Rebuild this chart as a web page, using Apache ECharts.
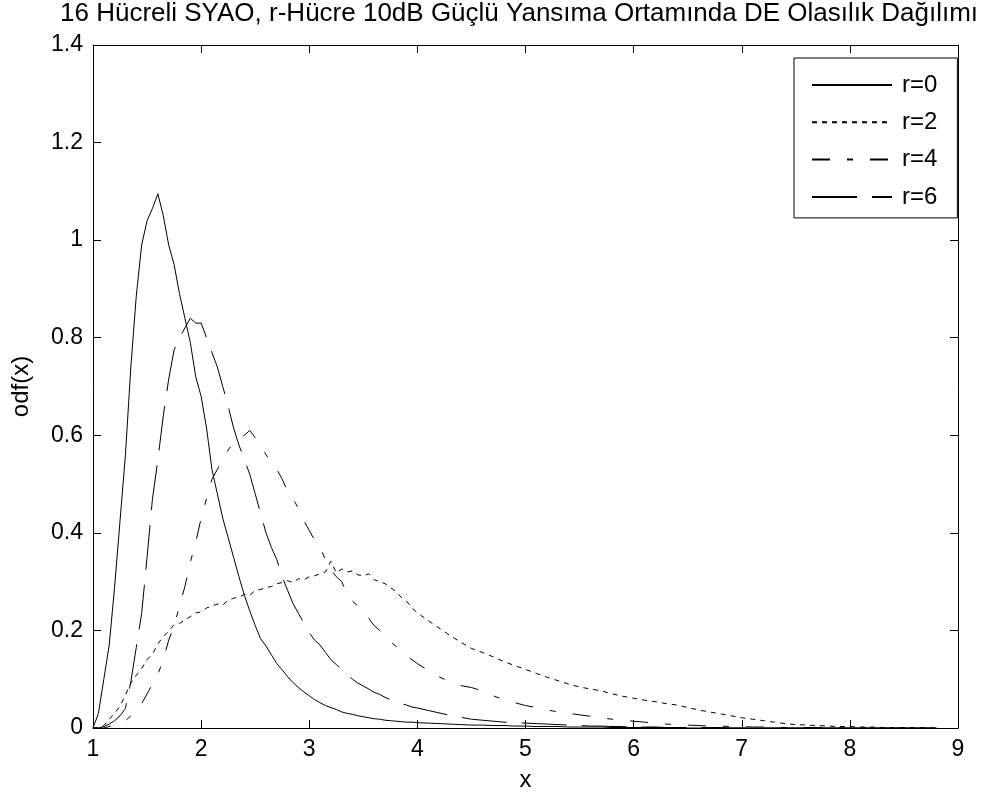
<!DOCTYPE html>
<html>
<head>
<meta charset="utf-8">
<script src="https://cdn.jsdelivr.net/npm/echarts@6/dist/echarts.min.js"></script>
<style>
  html, body { margin: 0; padding: 0; background: #fff; }
  #chart { width: 989px; height: 803px; }
</style>
</head>
<body>
<div id="chart"></div>
<script>
// Sample positions: 0.05 steps up to 4, then 0.1 steps in the tails
const xs = [
  1.00,1.05,1.10,1.15,1.20,1.25,1.30,1.35,1.40,1.45,
  1.50,1.55,1.60,1.65,1.70,1.75,1.80,1.85,1.90,1.95,
  2.00,2.05,2.10,2.15,2.20,2.25,2.30,2.35,2.40,2.45,
  2.50,2.55,2.60,2.65,2.70,2.75,2.80,2.85,2.90,2.95,
  3.00,3.05,3.10,3.15,3.20,3.25,3.30,3.35,3.40,3.45,
  3.50,3.55,3.60,3.65,3.70,3.75,3.80,3.85,3.90,3.95,
  4.00,
  4.1,4.2,4.3,4.4,4.5,4.6,4.7,4.8,4.9,5.0,
  5.1,5.2,5.3,5.4,5.5,5.6,5.7,5.8,5.9,6.0,
  6.1,6.2,6.3,6.4,6.5,6.6,6.7,6.8,6.9,7.0,
  7.1,7.2,7.3,7.4,7.5,7.6,7.7,7.8,7.9,8.0,
  8.1,8.2,8.3,8.4,8.5,8.6,8.7,8.8
];

// r=0
const pdfR0 = [
  0.000,0.030,0.100,0.170,0.290,0.425,0.560,0.740,0.885,0.990,
  1.040,1.065,1.095,1.050,0.990,0.950,0.890,0.840,0.790,0.720,
  0.680,0.615,0.530,0.480,0.430,0.390,0.350,0.310,0.272,0.240,
  0.210,0.183,0.168,0.150,0.132,0.119,0.105,0.093,0.083,0.074,
  0.066,0.058,0.052,0.046,0.042,0.038,0.033,0.030,0.028,0.025,
  0.023,0.021,0.019,0.018,0.016,0.015,0.014,0.013,0.012,0.012,
  0.011,
  0.010,0.009,0.008,0.007,0.006,0.006,0.005,0.005,0.004,0.004,
  0.003,0.003,0.003,0.002,0.002,0.002,0.002,0.001,0.001,0.001,
  0.001,0.001,0.001,0.001,0,0,0,0,0,0,
  0,0,0,0,0,0,0,0,0,0,
  0,0,0,0,0,0,0,0
];

// r=2
const pdfR2 = [
  0.000,0.000,0.005,0.018,0.030,0.045,0.068,0.092,0.108,0.122,
  0.140,0.152,0.172,0.188,0.198,0.212,0.214,0.222,0.228,0.236,
  0.238,0.246,0.250,0.254,0.252,0.262,0.266,0.268,0.274,0.272,
  0.282,0.284,0.288,0.290,0.296,0.298,0.302,0.298,0.306,0.304,
  0.310,0.312,0.316,0.320,0.342,0.318,0.326,0.320,0.322,0.314,
  0.312,0.316,0.304,0.300,0.296,0.288,0.280,0.268,0.260,0.246,
  0.236,
  0.220,0.205,0.190,0.176,0.163,0.155,0.146,0.136,0.128,0.120,
  0.112,0.104,0.097,0.090,0.084,0.080,0.076,0.070,0.065,0.061,
  0.057,0.054,0.050,0.047,0.042,0.037,0.033,0.029,0.025,0.021,
  0.018,0.015,0.012,0.009,0.007,0.006,0.005,0.004,0.003,0.003,
  0.002,0.002,0.001,0.001,0.001,0.001,0,0
];

// r=4
const pdfR4 = [
  0.000,0.000,0.000,0.003,0.006,0.010,0.015,0.025,0.035,0.050,
  0.070,0.090,0.110,0.140,0.180,0.210,0.250,0.290,0.340,0.380,
  0.430,0.470,0.510,0.530,0.550,0.570,0.585,0.595,0.600,0.610,
  0.595,0.580,0.560,0.545,0.530,0.510,0.485,0.470,0.450,0.425,
  0.405,0.385,0.370,0.345,0.325,0.310,0.300,0.275,0.260,0.250,
  0.235,0.225,0.210,0.200,0.190,0.177,0.168,0.157,0.148,0.140,
  0.132,
  0.118,0.105,0.095,0.087,0.083,0.076,0.066,0.058,0.052,0.046,
  0.042,0.037,0.033,0.030,0.027,0.024,0.021,0.018,0.016,0.014,
  0.012,0.010,0.008,0.007,0.006,0.005,0.004,0.004,0.003,0.003,
  0.002,0.002,0.002,0.001,0.001,0.001,0.001,0.001,0,0,
  0,0,0,0,0,0,0,0
];

// r=6
const pdfR6 = [
  0.000,0.000,0.003,0.008,0.015,0.025,0.040,0.095,0.165,0.235,
  0.350,0.470,0.550,0.640,0.715,0.775,0.800,0.820,0.840,0.830,
  0.830,0.800,0.770,0.740,0.700,0.660,0.615,0.580,0.550,0.520,
  0.480,0.440,0.400,0.370,0.345,0.310,0.282,0.255,0.235,0.215,
  0.195,0.180,0.170,0.155,0.140,0.130,0.120,0.110,0.100,0.092,
  0.086,0.080,0.073,0.069,0.063,0.058,0.054,0.050,0.047,0.043,
  0.041,
  0.036,0.031,0.026,0.022,0.018,0.016,0.014,0.012,0.011,0.010,
  0.009,0.008,0.007,0.006,0.005,0.004,0.004,0.003,0.003,0.002,
  0.002,0.002,0.001,0.001,0.001,0.001,0.001,0.001,0,0,
  0,0,0,0,0,0,0,0,0,0,
  0,0,0,0,0,0,0,0
];

const seriesNames = ['r=0', 'r=2', 'r=4', 'r=6'];
const seriesValues = [pdfR0, pdfR2, pdfR4, pdfR6];
const xTicks = { min: 1, max: 9, step: 1 };
const yTicks = { min: 0, max: 1.4, step: 0.2 };
const titleText = '16 Hücreli SYAO, r-Hücre 10dB Güçlü Yansıma Ortamında DE Olasılık Dağılımı';
const xName = 'x';
const yName = 'odf(x)';

// Dash patterns: solid, dotted, dash-dot, dashed
const dashes = ['solid', [5, 5], [18, 17, 6, 17], [45, 15]];

const FONT = '"Liberation Sans", Arial, sans-serif';
const BLACK = '#000';

const chart = echarts.init(document.getElementById('chart'), null, { renderer: 'canvas' });

const axisBase = {
  type: 'value',
  axisLine: { show: true, onZero: false, lineStyle: { color: BLACK, width: 1 } },
  axisTick: { show: true, inside: true, length: 8, lineStyle: { color: BLACK, width: 1 } },
  splitLine: { show: false }
};

chart.setOption({
  animation: false,
  backgroundColor: '#fff',
  title: {
    text: titleText,
    left: 55,
    top: -4,
    textStyle: { fontFamily: FONT, fontSize: 26, fontWeight: 'normal', color: BLACK }
  },
  grid: { left: 93, right: 31, top: 45, bottom: 75, containLabel: false },
  legend: {
    show: true,
    orient: 'vertical',
    left: 794,
    top: 58,
    padding: [15, 20, 9, 17],
    itemWidth: 80,
    itemHeight: 24,
    itemGap: 13.3,
    backgroundColor: '#fff',
    borderColor: BLACK,
    borderWidth: 1,
    selectedMode: false,
    // line-only keys: the point marker is kept invisible
    itemStyle: { opacity: 0 },
    textStyle: { fontFamily: FONT, fontSize: 24, color: BLACK, padding: [0, 0, 0, 5] },
    data: seriesNames.slice()
  },
  xAxis: [
    Object.assign({}, axisBase, {
      position: 'bottom',
      min: xTicks.min, max: xTicks.max, interval: xTicks.step,
      name: xName, nameLocation: 'middle', nameGap: 40,
      nameTextStyle: { fontFamily: FONT, fontSize: 24, color: BLACK },
      axisLabel: { fontFamily: FONT, fontSize: 23, color: BLACK, margin: 10 }
    }),
    Object.assign({}, axisBase, {
      position: 'top',
      min: xTicks.min, max: xTicks.max, interval: xTicks.step,
      axisLabel: { show: false }
    })
  ],
  yAxis: [
    Object.assign({}, axisBase, {
      position: 'left',
      min: yTicks.min, max: yTicks.max, interval: yTicks.step,
      name: yName, nameLocation: 'middle', nameGap: 60, nameRotate: 90,
      nameTextStyle: { fontFamily: FONT, fontSize: 24, color: BLACK },
      axisLabel: {
        fontFamily: FONT, fontSize: 23, color: BLACK, margin: 10,
        formatter: v => String(+v.toFixed(1))
      }
    }),
    Object.assign({}, axisBase, {
      position: 'right',
      min: yTicks.min, max: yTicks.max, interval: yTicks.step,
      axisLabel: { show: false }
    })
  ],
  series: seriesNames.map((name, k) => ({
    name: name,
    type: 'line',
    xAxisIndex: 0,
    yAxisIndex: 0,
    showSymbol: false,
    symbol: 'none',
    smooth: false,
    clip: true,
    lineStyle: { color: BLACK, width: 1, type: dashes[k] },
    itemStyle: { color: BLACK },
    emphasis: { disabled: true },
    data: xs.map((x, i) => [x, seriesValues[k][i]])
  }))
});
</script>
</body>
</html>
